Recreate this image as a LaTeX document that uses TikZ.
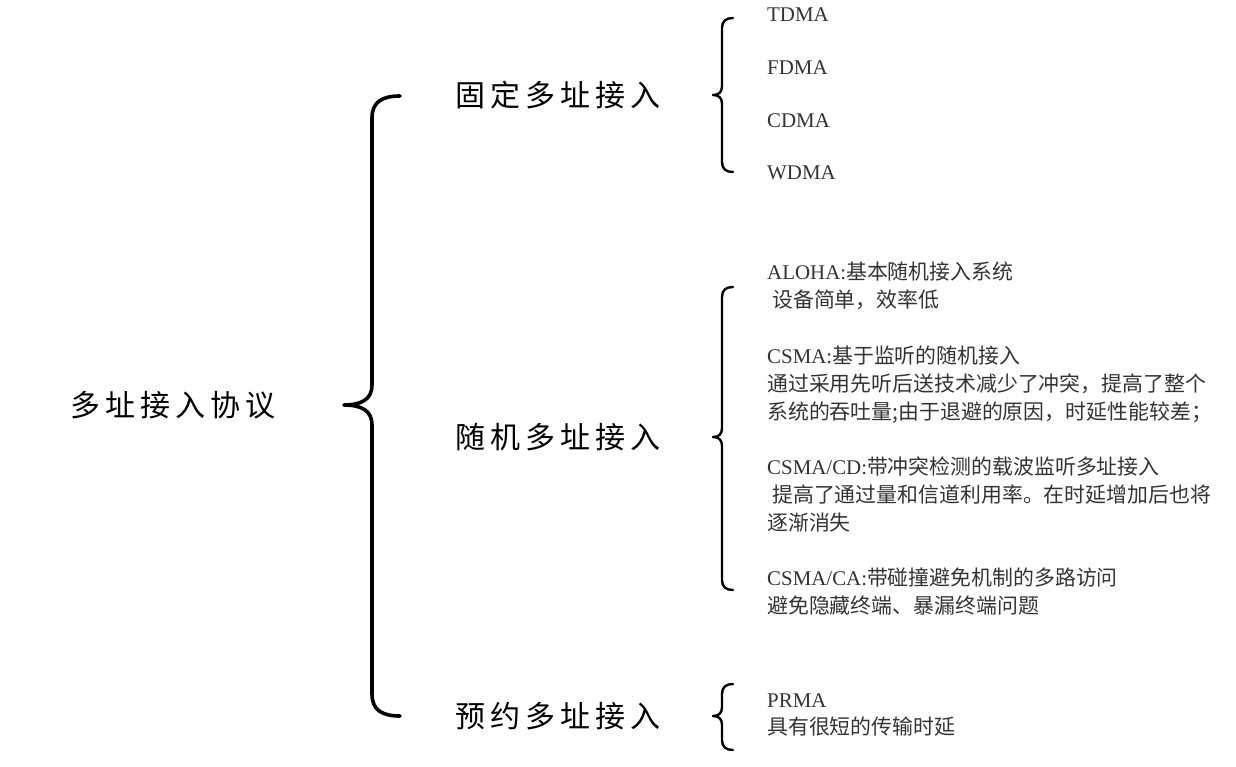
\documentclass[tikz,border=0pt]{standalone}
\usepackage{fontspec}
\setmainfont{Liberation Serif}
\newfontfamily\cjk{Noto Sans CJK SC}
\newfontfamily\cjkh[LetterSpace=17]{Noto Sans CJK SC}
\definecolor{txtgray}{HTML}{333333}
\begin{document}
\begin{tikzpicture}[x=1pt,y=-1pt,
  heading/.style={anchor=west,inner sep=0pt,font=\cjkh\fontsize{30}{34}\selectfont,text=black},
  item/.style={anchor=north west,inner sep=0pt,align=left,text=txtgray,font=\fontsize{20.9}{27.8}\selectfont},
  bigbrace/.style={line width=3.6pt,line cap=round,line join=round},
  smallbrace/.style={line width=2.4pt,line cap=round,line join=round}]
\useasboundingbox (0,0) rectangle (1236,767);

% headings
\node[heading] (root) at (70,405) {多址接入协议};
\node[heading] (fixed) at (455,95) {固定多址接入};
\node[heading] (random) at (455,437) {随机多址接入};
\node[heading] (reserve) at (455,716) {预约多址接入};

% big brace
\draw[bigbrace] (400,96) .. controls (382,96) and (372,102) .. (372,118) -- (372,385)
  .. controls (372,399) and (362,405) .. (344,405)
  .. controls (362,405) and (372,411) .. (372,425) -- (372,694)
  .. controls (372,710) and (382,716) .. (400,716);

% small braces
\draw[smallbrace] (733,18) .. controls (726,18) and (722,21) .. (722,28) -- (722,86)
  .. controls (722,92) and (719,95) .. (713,95)
  .. controls (719,95) and (722,98) .. (722,104) -- (722,162)
  .. controls (722,169) and (726,172) .. (733,172);
\draw[smallbrace] (733,287) .. controls (726,287) and (722,290) .. (722,297) -- (722,428)
  .. controls (722,434) and (719,437) .. (713,437)
  .. controls (719,437) and (722,440) .. (722,446) -- (722,580)
  .. controls (722,587) and (726,590) .. (733,590);
\draw[smallbrace] (733,684) .. controls (726,684) and (722,687) .. (722,694) -- (722,707)
  .. controls (722,713) and (719,716) .. (713,716)
  .. controls (719,716) and (722,719) .. (722,725) -- (722,740)
  .. controls (722,747) and (726,750) .. (733,750);

% fixed items
\node[item] (tdma) at (767,8) {TDMA};
\node[item] (fdma) at (767,61) {FDMA};
\node[item] (cdma) at (767,113) {CDMA};
\node[item] (wdma) at (767,166) {WDMA};

% random items
\node[item] (aloha) at (767,262) {ALOHA:{\cjk 基本随机接入系统}\\\hspace{5pt}{\cjk 设备简单，效率低}};
\node[item] (csma) at (767,346) {CSMA:{\cjk 基于监听的随机接入}\\{\cjk 通过采用先听后送技术减少了冲突，提高了整个}\\{\cjk 系统的吞吐量}{\cjk ;}{\cjk 由于退避的原因，时延性能较差；}};
\node[item] (csmacd) at (767,457) {CSMA/CD:{\cjk 带冲突检测的载波监听多址接入}\\\hspace{5pt}{\cjk 提高了通过量和信道利用率。在时延增加后也将}\\{\cjk 逐渐消失}};
\node[item] (csmaca) at (767,568) {CSMA/CA:{\cjk 带碰撞避免机制的多路访问}\\{\cjk 避免隐藏终端、暴漏终端问题}};

% reserve items
\node[item] (prma) at (767,693) {PRMA\\{\cjk 具有很短的传输时延}};
\end{tikzpicture}
\end{document}
